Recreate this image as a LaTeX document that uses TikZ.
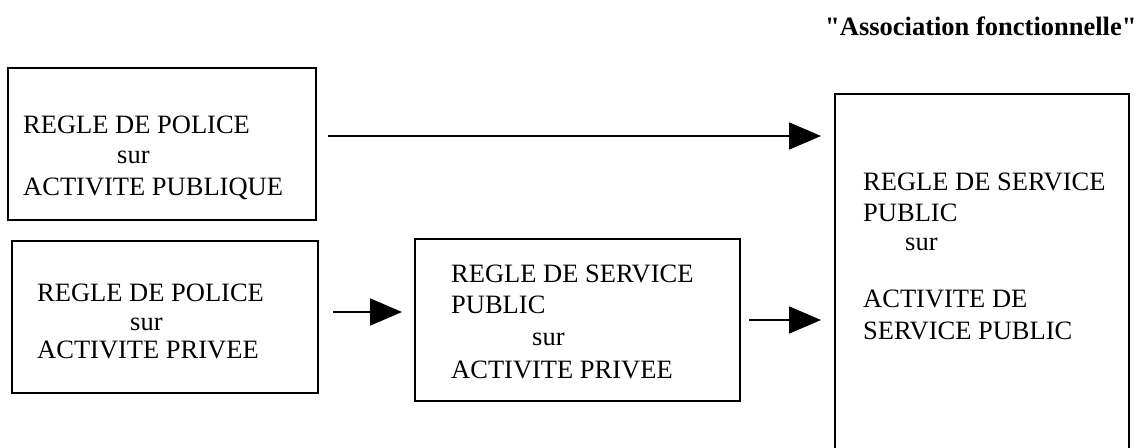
\documentclass[tikz,border=0pt]{standalone}
\usepackage{fontspec}
\setmainfont{Liberation Serif}
\newfontfamily\plainserif{Liberation Serif}
\usetikzlibrary{arrows.meta}
\begin{document}
\begin{tikzpicture}[x=1pt,y=-1pt,
  boxst/.style={draw,line width=2pt,inner sep=0pt},
  txt/.style={anchor=base west,inner sep=0pt,font=\fontsize{26.5}{31}\selectfont},
  ttl/.style={anchor=base west,inner sep=0pt,font=\plainserif\fontsize{26.5}{31}\selectfont\bfseries},
  arr/.style={line width=1.8pt,-{Triangle[length=32pt,width=27pt]}}]
\useasboundingbox (0,0) rectangle (1145,447);
\clip (0,0) rectangle (1145,447);
% boxes
\node[boxst,minimum width=308pt,minimum height=152pt] (b1) at (162,144) {};
\node[boxst,minimum width=306pt,minimum height=152pt] (b2) at (165,317) {};
\node[boxst,minimum width=325pt,minimum height=162pt] (b3) at (577.5,320) {};
\node[boxst,minimum width=294pt,minimum height=380pt] (b4) at (982,284) {};
% title
\node[ttl] (title) at (825,35) {"Association fonctionnelle"};
% box 1 text
\node[txt] (t1a) at (23,133) {REGLE DE POLICE};
\node[txt] (t1b) at (117,163) {sur};
\node[txt] (t1c) at (23,195) {ACTIVITE PUBLIQUE};
% box 2 text
\node[txt] (t2a) at (37,301) {REGLE DE POLICE};
\node[txt] (t2b) at (130,330) {sur};
\node[txt] (t2c) at (37,358) {ACTIVITE PRIVEE};
% box 3 text
\node[txt] (t3a) at (451,282) {REGLE DE SERVICE};
\node[txt] (t3b) at (451,313) {PUBLIC};
\node[txt] (t3c) at (532,345) {sur};
\node[txt] (t3d) at (451,378) {ACTIVITE PRIVEE};
% box 4 text
\node[txt] (t4a) at (863,190) {REGLE DE SERVICE};
\node[txt] (t4b) at (863,221) {PUBLIC};
\node[txt] (t4c) at (905,250) {sur};
\node[txt] (t4d) at (863,307) {ACTIVITE DE};
\node[txt] (t4e) at (863,339) {SERVICE PUBLIC};
% arrows
\coordinate (y1) at (0,136);
\coordinate (y2) at (0,312);
\coordinate (y3) at (0,320);
\draw[arr,shorten <=11pt,shorten >=13pt] (b1.east |- y1) -- (b4.west |- y1);
\draw[arr,shorten <=14pt,shorten >=12pt] (b2.east |- y2) -- (b3.west |- y2);
\draw[arr,shorten <=8pt,shorten >=13pt] (b3.east |- y3) -- (b4.west |- y3);
\end{tikzpicture}
\end{document}
